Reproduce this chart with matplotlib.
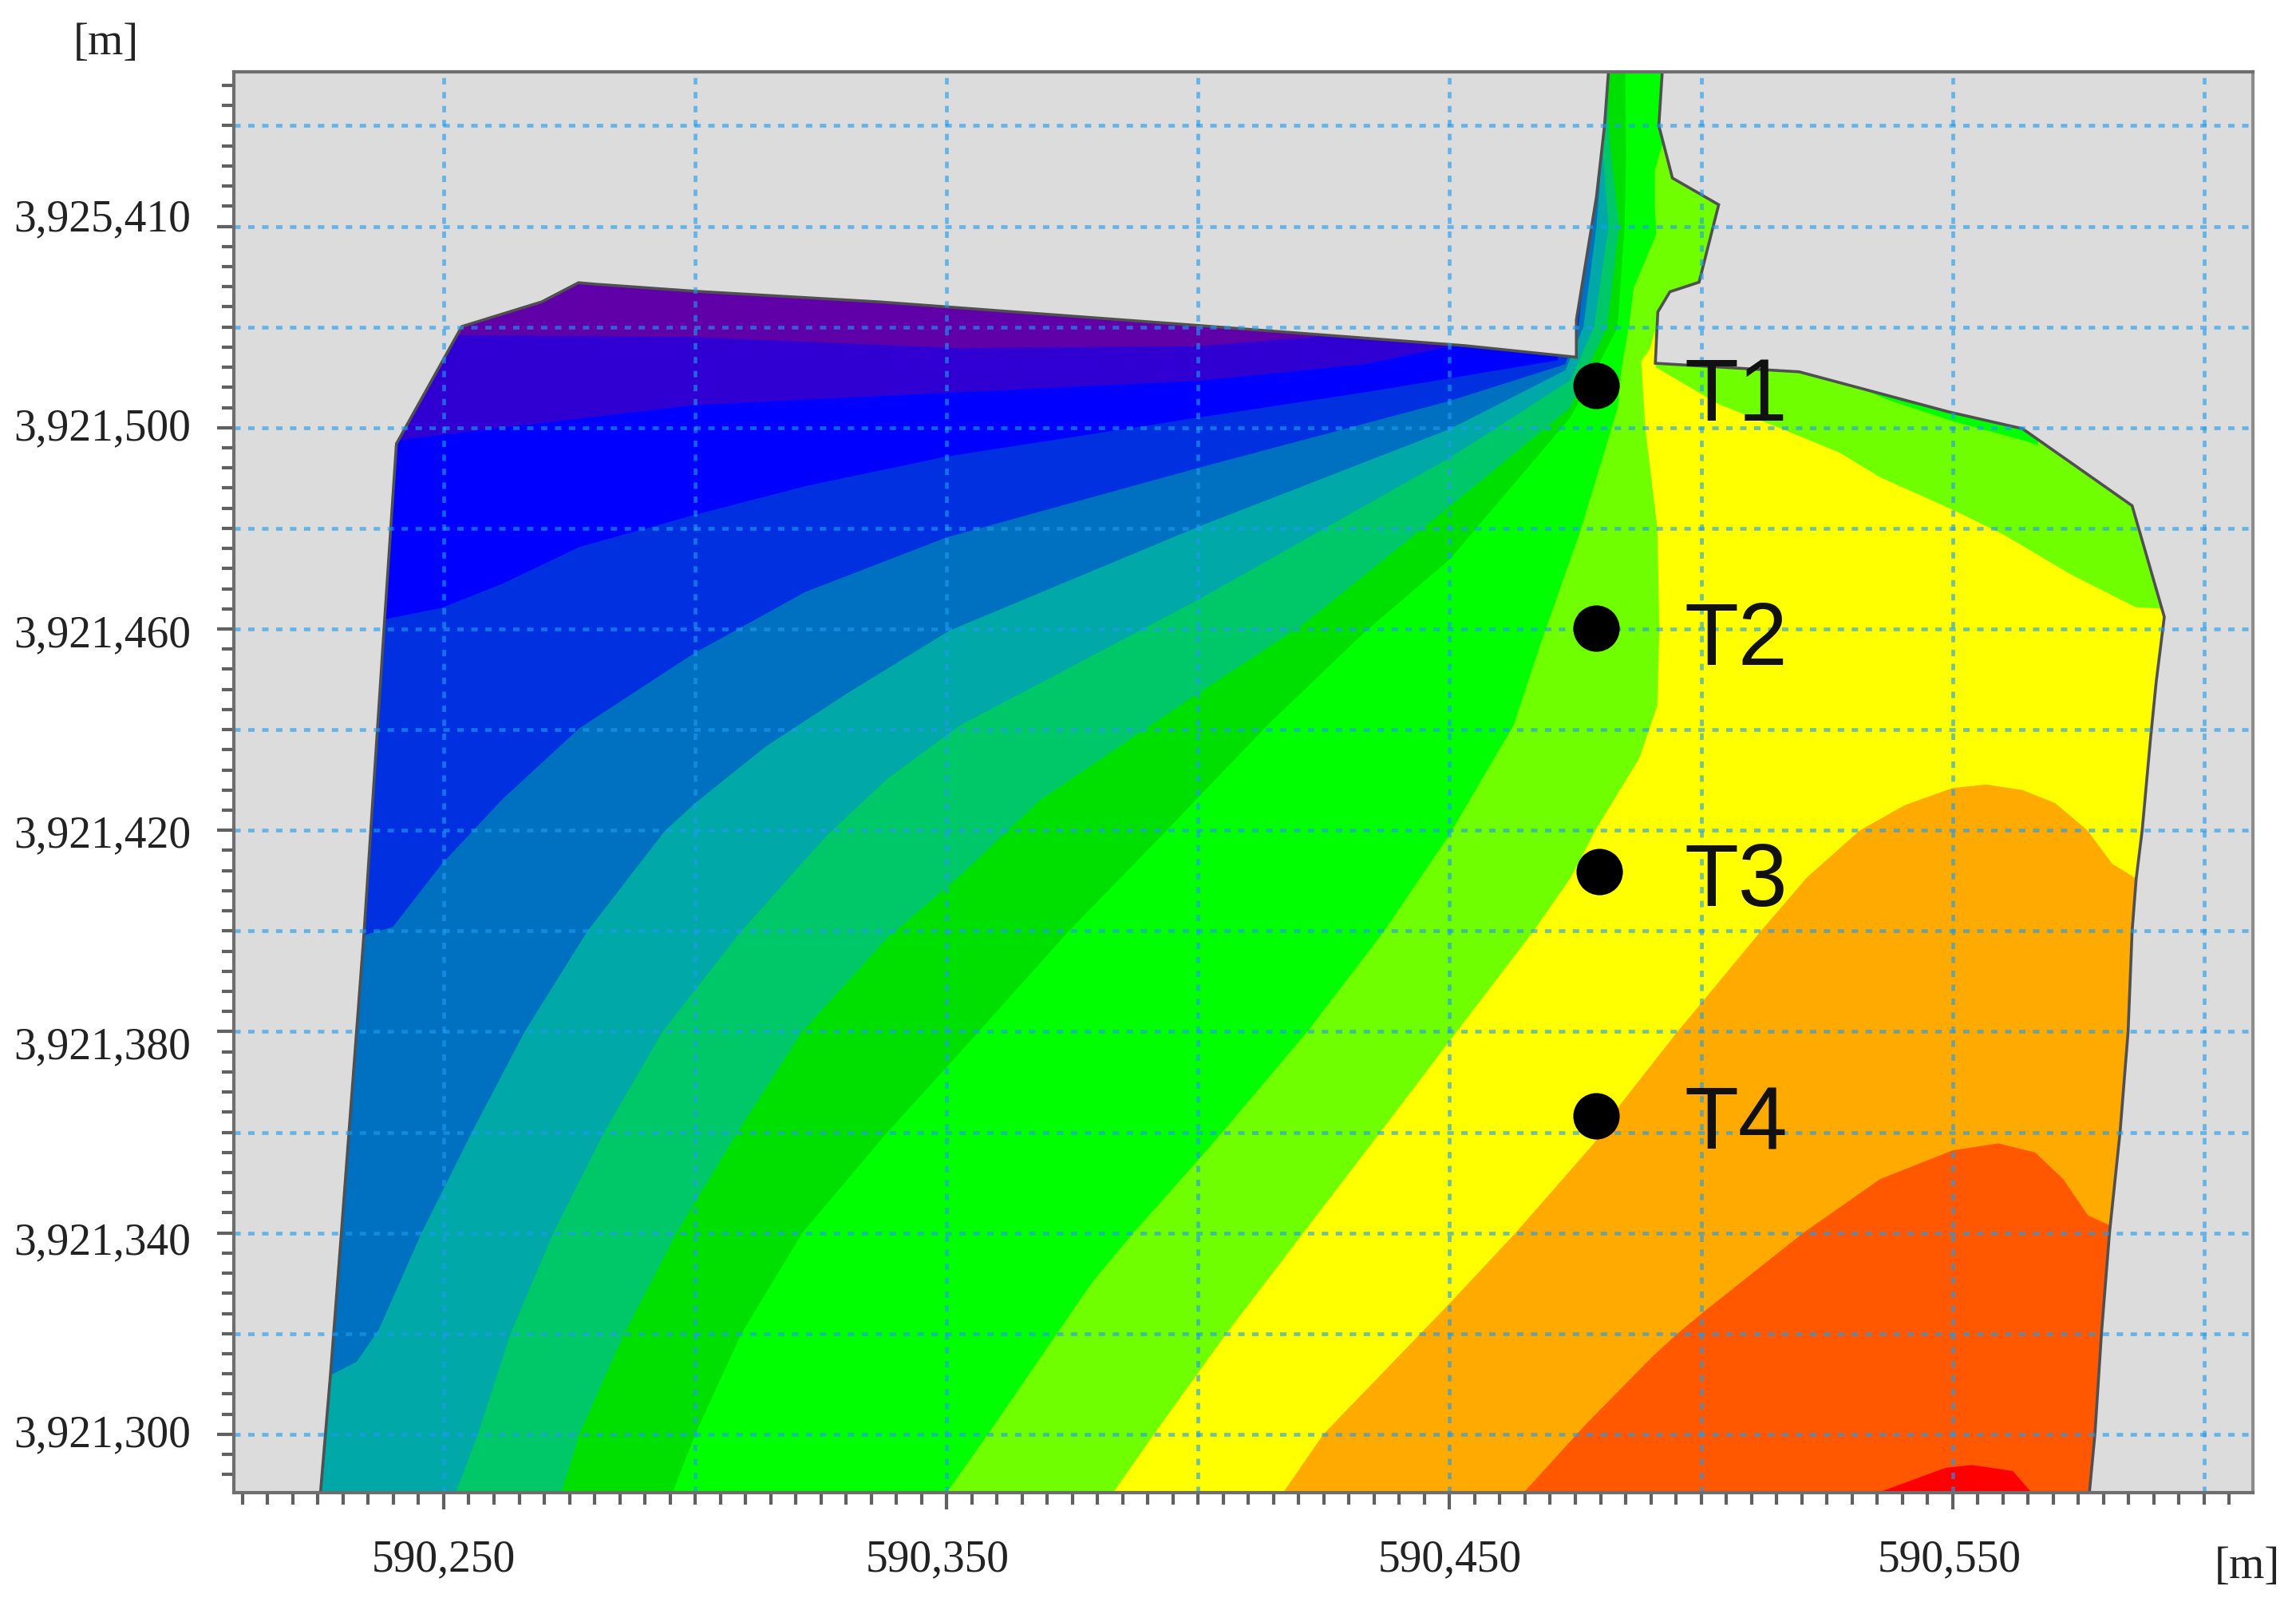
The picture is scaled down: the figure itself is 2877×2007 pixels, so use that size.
#!/usr/bin/env python

"""plot.py: banded contour map of the site with points T1 to T4."""

import numpy as np
import matplotlib
matplotlib.use('Agg')
import matplotlib.pyplot as plt
from matplotlib.patches import Polygon
from matplotlib.transforms import ScaledTranslation

# All coordinates are metres from this origin.
x0, y0 = 590000, 3921000

# Model boundary, clockwise from top of the channel.
boundary_x = [481.6, 492.3, 491.6, 494.3, 503.5, 499.6, 493.8, 491.4, 490.9, 519.5
        , 549.4, 563.9, 573.6, 585.7, 592.1, 590.5, 589.3, 587.7, 586.5, 585.7
        , 584.9, 583.3, 581.2, 579.6, 578.3, 577.2, 225.5, 227.5, 229.6, 234.2
        , 238.3, 240.6, 253.6, 269.5, 276.8, 280.3, 300.1, 336.5, 394.7, 453.0
        , 475.2, 475.2, 479.2, 480.8]
boundary_y = [571.0, 571.0, 560.0, 549.6, 544.3, 528.9, 527.0, 523.0, 512.8, 511.1
        , 503.1, 499.8, 493.0, 484.5, 462.4, 449.6, 437.6, 420.0, 410.3, 400.0
        , 380.0, 360.0, 340.0, 320.0, 300.0, 288.4, 288.4, 312.0, 339.3, 400.2
        , 462.5, 496.8, 520.1, 525.0, 528.8, 528.5, 527.1, 525.0, 520.7, 516.3
        , 514.0, 521.4, 545.9, 560.0]

# Contour lines, from the lowest level to the highest.
c1_x = [253.6, 300.0, 352.6, 400.0, 429.0]
c1_y = [518.4, 518.0, 515.8, 516.2, 518.5]
c2_x = [241.5, 261.7, 300.0, 349.6, 400.0, 433.0, 452.0]
c2_y = [497.6, 500.0, 504.5, 506.9, 509.3, 512.6, 516.5]
c3_x = [238.7, 249.6, 261.7, 277.0, 300.0, 322.0, 349.6, 400.0, 433.0, 450.0, 471.5]
c3_y = [462.0, 464.2, 469.0, 476.3, 482.7, 488.4, 494.2, 502.0, 507.0, 509.8, 513.4]
c4_x = [234.3, 239.9, 249.6, 261.7, 277.0, 300.0, 322.0, 350.0, 400.0, 450.0, 473.0, 475.6, 477.2]
c4_y = [399.2, 400.8, 413.3, 426.2, 440.3, 455.3, 467.4, 478.2, 492.0, 505.3, 512.6, 520.0, 535.0]
c5_x = [227.8, 232.7, 237.1, 245.6, 255.6, 266.1, 278.6, 293.9, 300.0, 314.1, 330.2, 350.6
        , 400.0, 450.0, 473.0, 476.6, 479.2, 480.3]
c5_y = [311.9, 314.4, 320.8, 340.0, 360.0, 380.0, 400.0, 419.8, 425.4, 436.7, 447.2, 459.7
        , 480.3, 499.7, 511.4, 520.0, 540.0, 554.4]
c6_x = [252.4, 256.8, 263.3, 271.8, 281.9, 293.5, 309.2, 326.2, 338.3, 352.6, 400.0, 450.0, 474.0, 478.7, 481.6, 480.5]
c6_y = [288.4, 300.0, 320.0, 340.0, 360.0, 380.0, 400.0, 419.0, 430.3, 440.8, 465.8, 494.0, 509.4, 520.0, 540.0, 554.4]
c7_x = [273.4, 277.0, 285.9, 296.3, 308.4, 321.3, 338.2, 352.6, 368.6, 400.0, 420.9, 450.0, 474.0, 477.0, 481.3, 483.7, 482.1, 481.6, 481.5]
c7_y = [288.4, 300.0, 320.0, 340.0, 360.0, 380.0, 398.6, 410.9, 426.0, 447.2, 460.9, 484.3, 504.0, 511.0, 520.0, 540.0, 554.4, 560.0, 571.0]
c8_x = [295.5, 300.0, 309.2, 321.3, 338.2, 352.6, 374.3, 392.8, 413.7, 433.0, 450.0, 474.0, 478.6, 483.4, 484.8, 485.1, 484.9]
c8_y = [288.4, 300.0, 320.0, 340.0, 360.0, 375.8, 400.0, 419.0, 440.8, 459.3, 473.8, 502.0, 510.5, 520.0, 540.0, 554.4, 571.0]
c9_x = [350.0, 358.2, 371.9, 379.0, 387.1, 400.0, 404.8, 421.7, 437.0, 449.8, 462.7, 468.3, 476.0, 482.4
        , 483.4, 484.2, 485.6, 486.6, 488.2, 491.1, 490.8, 490.8, 492.2, 493.0]
c9_y = [288.4, 300.0, 320.0, 330.3, 340.0, 354.5, 360.0, 380.0, 400.0, 418.9, 440.8, 457.7, 479.5, 500.6
        , 503.9, 511.9, 520.0, 527.8, 531.5, 538.5, 543.8, 551.2, 556.0, 557.0]
c10_x = [383.1, 391.2, 405.6, 420.9, 436.2, 451.4, 466.7, 474.0, 479.2, 487.7, 491.3, 491.7, 491.3
        , 488.9, 488.1, 489.8, 490.8, 490.9, 491.0, 503.4, 515.5, 527.6, 535.7, 550.0, 559.9, 573.6, 586.5, 591.3, 594.0]
c10_y = [288.4, 300.0, 320.0, 340.0, 360.0, 380.0, 400.0, 410.5, 420.4, 434.3, 444.8, 460.0, 480.0
        , 500.0, 513.2, 515.6, 519.3, 512.8, 512.0, 504.7, 500.0, 495.0, 490.1, 483.7, 478.9, 470.8, 464.3, 464.1, 464.1]
c11_x = [416.9, 424.9, 444.2, 450.0, 463.1, 478.6, 484.0, 495.3, 500.0, 511.9, 521.1, 531.6, 540.5
        , 550.0, 556.7, 563.9, 570.4, 576.8, 581.7, 586.5, 590.0]
c11_y = [288.4, 300.0, 320.0, 326.0, 340.0, 357.7, 365.6, 380.0, 385.6, 400.0, 410.7, 420.0, 425.0
        , 428.4, 429.1, 428.0, 425.4, 420.0, 413.4, 410.4, 410.4]
c12_x = [464.7, 477.2, 490.5, 495.3, 500.0, 520.3, 535.6, 550.0, 559.1, 566.4, 572.0, 576.9, 581.3, 584.0]
c12_y = [288.4, 302.1, 315.6, 320.0, 323.9, 340.0, 350.7, 356.4, 357.8, 356.0, 350.7, 343.5, 341.5, 341.5]
c13_x = [535.2, 548.5, 553.8, 562.0, 565.7]
c13_y = [288.4, 293.3, 293.9, 292.7, 288.4]

# Thin sliver of green under the north east boundary.
sliver_x = [530.0, 537.3, 550.0, 564.0, 567.0, 567.0, 530.0]
sliver_y = [508.5, 505.5, 501.3, 497.5, 496.5, 505.0, 515.0]

band_colors = ['#6000A8', '#3000D2', '#0000FF', '#0030E0', '#0070C0', '#00A8A8', '#00C868'
        , '#00E000', '#00FF00', '#70FF00', '#FFFF00', '#FFAA00', '#FF5800', '#FF0000']

point_names = ['T1', 'T2', 'T3', 'T4']
point_x = [479.2, 479.2, 479.8, 479.2]
point_y = [508.4, 460.1, 411.8, 363.2]
name_x = 496.6
name_y = [501.5, 453.1, 405.2, 356.9]

x_ticks = [250, 350, 450, 550]
x_tick_labels = ['590,250', '590,350', '590,450', '590,550']
y_ticks = [300, 340, 380, 420, 460, 500, 540]
y_tick_labels = ['3,921,300', '3,921,340', '3,921,380', '3,921,420', '3,921,460', '3,921,500', '3,925,410']

# Labels in the source are not quite on their ticks (points).
x_label_shift = [0, -8, 0, -3]
y_label_shift = [4, -4, -9, 0, -1, 4, 11]

serif = 'Liberation Serif'
xlim = (208.3, 609.7)
ylim = (288.4, 570.7)


def band_polygon( xs, ys, end ):
    """Region on the high side of a contour line. It is larger than the model
    and gets clipped by the boundary.
    """
    pts = list( zip( xs, ys ) )
    if end == 'up':
        pts += [ (xs[-1], 600), (640, 600), (640, 270) ]
    elif end == 'right':
        pts += [ (640, ys[-1]), (640, 270) ]
    if ys[0] > ylim[0]:
        # Starts on west boundary.
        pts += [ (200, 270), (200, ys[0]) ]
    else:
        pts += [ (xs[-1], 270), (xs[0], 270) ]
    return np.array( pts ) + [x0, y0]


def main( ):
    fig = plt.figure( figsize=(28.77, 20.08), dpi=100 )
    ax = fig.add_axes( [0.1019, 1 - 1871 / 2008, 0.8793, (1871 - 91) / 2008] )
    ax.set_facecolor( '#DCDCDC' )
    ax.set_xlim( x0 + xlim[0], x0 + xlim[1] )
    ax.set_ylim( y0 + ylim[0], y0 + ylim[1] )

    outline = np.column_stack( [ np.array(boundary_x) + x0, np.array(boundary_y) + y0 ] )
    domain = Polygon( outline, closed=True, fc=band_colors[0], ec='none', zorder=1 )
    ax.add_patch( domain )

    lines = [ (c1_x, c1_y, 'up'), (c2_x, c2_y, 'up'), (c3_x, c3_y, 'up'), (c4_x, c4_y, 'up')
            , (c5_x, c5_y, 'up'), (c6_x, c6_y, 'up'), (c7_x, c7_y, 'up'), (c8_x, c8_y, 'up')
            , (c9_x, c9_y, 'up'), (c10_x, c10_y, 'right'), (c11_x, c11_y, 'right')
            , (c12_x, c12_y, 'right'), (c13_x, c13_y, 'none') ]
    for i, (xs, ys, end) in enumerate( lines ):
        band = Polygon( band_polygon( xs, ys, end ), closed=True
                , fc=band_colors[i+1], ec='none', zorder=2 + i * 0.01 )
        ax.add_patch( band )
        band.set_clip_path( domain )
        # Green sliver sits on top of the lime band.
        if i == 9:
            sliver = np.column_stack( [ np.array(sliver_x) + x0, np.array(sliver_y) + y0 ] )
            extra = Polygon( sliver, closed=True, fc=band_colors[8], ec='none', zorder=2 + i * 0.01 )
            ax.add_patch( extra )
            extra.set_clip_path( domain )

    ax.add_patch( Polygon( outline, closed=True, fc='none', ec='#505050', lw=2.6, zorder=3 ) )

    # Dotted grid on top of the colours.
    for x in np.arange( 250, 601, 50 ):
        ax.axvline( x0 + x, color='#1E9BF0', alpha=0.62, lw=3.4, ls=(0, (1.7, 2.0)), zorder=4 )
    for y in np.arange( 300, 561, 20 ):
        ax.axhline( y0 + y, color='#1E9BF0', alpha=0.62, lw=3.4, ls=(0, (1.7, 2.0)), zorder=4 )

    ax.scatter( np.array(point_x) + x0, np.array(point_y) + y0, s=1750, c='black', lw=0, zorder=5 )
    for name, y in zip( point_names, name_y ):
        ax.text( x0 + name_x, y0 + y, name, family='Liberation Sans', fontsize=80
                , va='baseline', ha='left', color='#111111', zorder=6 )

    # Ticks
    ax.set_xticks( x0 + np.array(x_ticks), x_tick_labels, fontfamily=serif, fontsize=40, color='#222222' )
    ax.set_yticks( y0 + np.array(y_ticks), y_tick_labels, fontfamily=serif, fontsize=40, color='#222222' )
    ax.set_xticks( x0 + np.arange( 210, 610, 5 ), minor=True )
    ax.set_yticks( y0 + np.arange( 292, 570, 4 ), minor=True )
    ax.tick_params( axis='both', which='major', length=15, width=3.0, color='#606060' )
    ax.tick_params( axis='both', which='minor', length=10.5, width=3.0, color='#606060' )
    ax.tick_params( axis='x', which='major', pad=26 )
    ax.tick_params( axis='y', which='major', pad=24 )
    for label, dx in zip( ax.get_xticklabels(), x_label_shift ):
        label.set_transform( label.get_transform()
                + ScaledTranslation( dx / 72, 0, fig.dpi_scale_trans ) )
    for label, dy in zip( ax.get_yticklabels(), y_label_shift ):
        label.set_transform( label.get_transform()
                + ScaledTranslation( 0, dy / 72, fig.dpi_scale_trans ) )

    for side in ax.spines:
        ax.spines[side].set_color( '#6E6E6E' )
        ax.spines[side].set_linewidth( 3.0 )
        ax.spines[side].set_zorder( 7 )
    ax.spines['right'].set_color( '#8C8C8C' )

    fig.text( 0.0318, 0.973, '[m]', family=serif, fontsize=41, ha='left', va='center', color='#222222' )
    fig.text( 0.9645, 0.0225, '[m]', family=serif, fontsize=41, ha='left', va='center', color='#222222' )

    fig.savefig( 'out.png', dpi=100, facecolor='white' )


if __name__ == '__main__':
    main()
